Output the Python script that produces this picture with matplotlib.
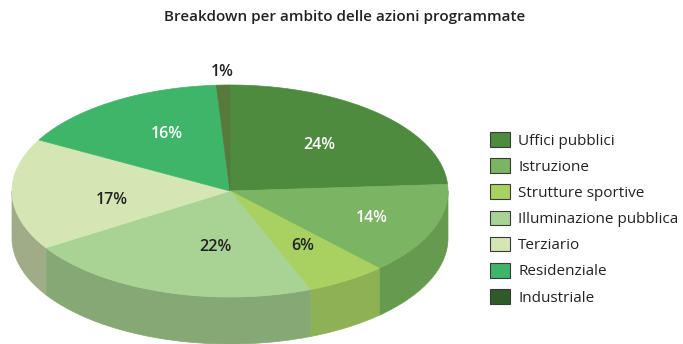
import numpy as np
import matplotlib
matplotlib.use("Agg")
import matplotlib.pyplot as plt
from matplotlib.patches import Polygon, Patch

plt.rcParams['font.family'] = ['Open Sans', 'DejaVu Sans']

# Data
categories = ["Uffici pubblici", "Istruzione", "Strutture sportive",
              "Illuminazione pubblica", "Terziario", "Residenziale", "Industriale"]
shares = [24, 14, 6, 22, 17, 16, 1]
labels = ["24%", "14%", "6%", "22%", "17%", "16%", "1%"]

# Styling
top_colors = ["#4e8b3f", "#7bb463", "#a8d162", "#a8d395", "#d3e6b4", "#3fb56a", "#577a3c"]
side_colors = ["#467d38", "#659a4f", "#8eb253", "#86a874", "#a0ab88", "#35a05c", "#3f6430"]
legend_colors = ["#4e8b3f", "#7bb463", "#a8d162", "#a8d395", "#d3e6b4", "#3fb56a", "#2f5a2a"]
label_colors = ["white", "white", "#222222", "#222222", "#222222", "white", "#222222"]
label_radius = [0.60, 0.70, 0.62, 0.53, 0.55, 0.61, 1.12]
label_shift = [0, 0, 0, 10.6, 7, -3.8, 0]  # degrees

W, H = 683, 344
fig = plt.figure(figsize=(W / 100, H / 100), dpi=100)
ax = fig.add_axes([0, 0, 1, 1])
ax.set_xlim(0, W)
ax.set_ylim(H, 0)
ax.axis("off")

cx, cy, rx, ry, depth = 230, 191, 218, 106, 47


def pt(theta_deg, dy=0.0):
    t = np.radians(theta_deg)
    return cx + rx * np.cos(t), cy - ry * np.sin(t) + dy


# Slice angles: start at 12 o'clock, clockwise
fracs = np.array(shares, dtype=float) / sum(shares)
ends = 90 - 360 * np.cumsum(fracs)
starts = np.concatenate([[90], ends[:-1]])

# Front walls (visible where the rim faces the viewer, angles -180..0)
for s, e, col in zip(starts, ends, side_colors):
    lo, hi = e, s
    for shift in (0, -360):
        a, b = max(lo + shift, -180), min(hi + shift, 0)
        if b - a <= 0:
            continue
        th = np.linspace(a, b, 80)
        top = [pt(t) for t in th]
        bot = [pt(t, depth) for t in th[::-1]]
        ax.add_patch(Polygon(top + bot, closed=True, facecolor=col,
                             edgecolor=col, linewidth=0.5, zorder=1))

# Top faces
for s, e, col in zip(starts, ends, top_colors):
    th = np.linspace(s, e, 120)
    poly = [(cx, cy)] + [pt(t) for t in th]
    ax.add_patch(Polygon(poly, closed=True, facecolor=col,
                         edgecolor=col, linewidth=0.5, zorder=2))

# Percentage labels
for s, e, lab, c, r, sh in zip(starts, ends, labels, label_colors, label_radius, label_shift):
    m = np.radians((s + e) / 2 + sh)
    x = cx + r * rx * np.cos(m)
    y = cy - r * ry * np.sin(m)
    ax.text(x, y, lab, ha="center", va="center", fontsize=11.5,
            fontweight="semibold", color=c, zorder=3)

fig.text(0.505, 1 - 17 / H, "Breakdown per ambito delle azioni programmate",
         ha="center", va="center", fontsize=11, fontweight="semibold", color="#222222")

handles = [Patch(facecolor=c, edgecolor="#3a3a3a", linewidth=0.8) for c in legend_colors]
leg = ax.legend(handles, categories, loc="upper left",
                bbox_to_anchor=(484 / W, 1 - 126 / H), frameon=False,
                fontsize=11, handlelength=1.3, handleheight=1.1,
                labelspacing=0.63, handletextpad=0.55, borderaxespad=0)
for t in leg.get_texts():
    t.set_color("#222222")

fig.savefig("out.png", dpi=100)
